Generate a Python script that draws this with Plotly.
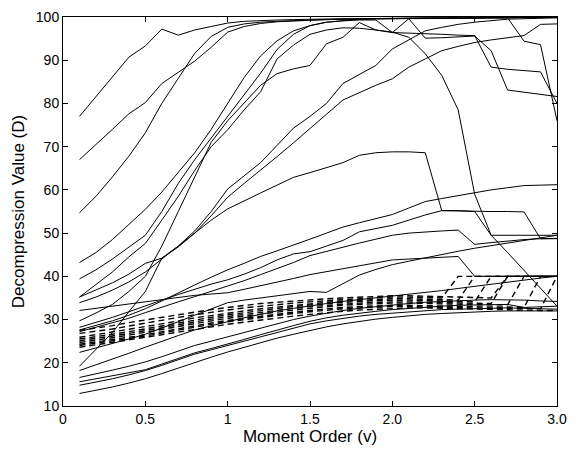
import plotly.graph_objects as go

# Moment order (x) shared by all curves
moment_order = [0.1, 0.2, 0.3, 0.4, 0.5, 0.6, 0.7, 0.8, 0.9, 1.0,
                1.1, 1.2, 1.3, 1.4, 1.5, 1.6, 1.7, 1.8, 1.9, 2.0,
                2.1, 2.2, 2.3, 2.4, 2.5, 2.6, 2.7, 2.8, 2.9, 3.0]

# ---- solid curves (decompression values) ----
s1 = [77, 81.5, 86, 90.7, 93.3, 97.2, 95.8, 97, 97.8, 98.6,
      99, 99.2, 99.3, 99.4, 99.5, 99.5, 99.6, 99.6, 99.7, 99.7,
      99.7, 99.8, 99.8, 99.8, 99.8, 99.9, 99.9, 99.9, 99.9, 99.9]
s2 = [67, 70.4, 74, 77.6, 80.2, 84.6, 87.2, 89.8, 93, 96.5,
      97.8, 98.5, 98.9, 99.1, 99.3, 99.4, 99.5, 99.5, 99.6, 99.6,
      99.7, 99.7, 99.7, 99.8, 99.8, 99.8, 99.8, 99.9, 99.9, 99.9]
s3 = [54.7, 58.5, 63, 67.8, 73.2, 80, 85.8, 91.6, 95.5, 97.6,
      98.4, 98.8, 99, 99.2, 99.3, 99.4, 99.5, 99.5, 99.6, 99.6,
      99.6, 99.7, 99.7, 99.7, 99.7, 99.8, 99.8, 94.4, 93.6, 76]
r1 = [43.2, 45.5, 48.5, 52, 55.5, 59.5, 64, 68.6, 74, 80,
      86, 91, 94.5, 96.8, 98, 98.8, 99.2, 99.5, 99.6, 99.7,
      99.7, 99.8, 99.8, 99.8, 99.8, 99.9, 99.9, 99.9, 99.9, 99.9]
r2 = [39.4, 41.5, 44, 46.8, 49.5, 55, 61.5, 67, 72, 77,
      82, 87, 92.5, 96, 98, 98.8, 99.1, 99.3, 99.3, 96.4,
      99.6, 95.1, 95.2, 95.4, 95.6, 92.2, 83.1, 82.6, 82.1, 81.6]
r3 = [35.2, 38, 41, 44.5, 47.6, 53, 58.5, 64.5, 70, 73.9,
      78.5, 82.7, 90.3, 93.5, 96, 97, 97.5, 97.4, 97, 96.4,
      96.3, 96.1, 96, 95.8, 95.7, 88.4, 87.9, 87.6, 87.3, 80]
r4 = [29.7, 31.5, 33.5, 36.5, 40, 47, 55, 63, 71, 76,
      80, 84.2, 86.9, 88, 88.8, 93.8, 95.3, 98.7, 97, 96.5,
      95.3, 91.5, 86.5, 78.5, 59, 49.5, 45.5, 41.3, 37.2, 33.1]
p_line = [35.2, 36.8, 38.5, 40.5, 43, 44.2, 47, 50.5, 55, 60.2,
          63.2, 66.3, 70.3, 74.3, 77, 80, 84.6, 86.7, 88.8, 92.6,
          94.7, 96.8, 97.6, 98.3, 98.8, 99.2, 99.5, 99.6, 99.7, 99.8]
q_line = [33.9, 35.2, 36.8, 38.7, 41, 44, 47, 50, 54, 58.3,
          61.5, 64.5, 67.7, 70.9, 74.3, 77.5, 80.8, 82.5, 84.2, 85.7,
          88.4, 90.3, 92.2, 93.2, 94.1, 94.7, 95.2, 95.7, 98.3, 98.4]
m0 = [19.2, 23, 27, 31.8, 36.5, 44.2, 46.8, 50, 53, 55.6,
      57.5, 59.3, 61.1, 62.9, 64, 65.2, 66.3, 68, 68.6, 68.8,
      68.8, 68.6, 55.2, 55.2, 55, 49.5, 49.5, 49.5, 49.5, 49.5]
m1 = [27.6, 28.6, 29.7, 31, 32.5, 34.3, 36.2, 38, 39.8, 41.5,
      43, 44.6, 45.9, 47.2, 48.6, 50, 51.4, 52.4, 53.4, 54.3,
      55.8, 57.3, 58, 58.7, 59.4, 60, 60.5, 61, 61.1, 61.2]
m2 = [28.2, 29.3, 30.5, 31.8, 33.2, 34.5, 35.8, 37, 38.2, 39.2,
      40.5, 42, 43.8, 45.2, 45.7, 47, 48.3, 50.3, 51, 51.8,
      53, 54.2, 55.2, 55.1, 55.1, 55, 55, 54.9, 48.7, 48.7]
m3 = [32.1, 32.6, 33.1, 33.6, 34.1, 34.6, 35.1, 35.6, 35.9, 36.2,
      37, 37.8, 38.6, 39.5, 40.4, 41.1, 41.8, 42.5, 43.2, 43.8,
      44, 44.2, 44.4, 44.6, 40, 40, 40, 40, 40, 40]
d_line = [27.2, 28.2, 29.2, 30.3, 31.6, 32.9, 34.1, 35.3, 36.5, 37.7,
          39, 40.4, 41.8, 43.2, 44.8, 45.8, 46.8, 47.7, 48.6, 49.5,
          50, 50.3, 50.5, 50.7, 47.4, 47.8, 48.2, 48.5, 48.7, 48.8]
e_line = [22.4, 23.4, 24.4, 25.5, 26.6, 28, 29.5, 31, 32.5, 33.9,
          34.5, 35, 35.6, 36.1, 36.5, 36.3, 38.3, 40.3, 41.6, 42.7,
          43.5, 44.3, 45, 45.8, 46.5, 47.1, 47.7, 48.3, 48.9, 49.5]
g_line = [18.2, 19.5, 20.8, 22.2, 23.6, 25, 26.3, 27.6, 28.6, 29.5,
          30.4, 31.2, 32, 32.6, 33.2, 33.7, 34.2, 34.6, 35, 35.4,
          35.8, 36.2, 36.7, 37.2, 37.7, 38.2, 38.7, 39.2, 39.6, 40]
b1 = [12.9, 13.6, 14.4, 15.3, 16.3, 17.5, 18.8, 20.1, 21.3, 22.5,
      23.6, 24.7, 25.7, 26.6, 27.5, 28.3, 29, 29.6, 30.1, 30.5,
      30.9, 31.2, 31.4, 31.6, 31.8, 31.9, 32, 32, 32, 32]
b2 = [14.8, 15.5, 16.3, 17.2, 18.2, 19.4, 20.7, 22, 23, 24,
      25.1, 26.1, 27.1, 28.1, 29, 29.7, 30.3, 30.8, 31.2, 31.5,
      31.8, 32.1, 32.3, 32.4, 32.5, 32.6, 32.7, 32.6, 32.5, 32.4]
b3 = [15.6, 16.3, 17, 17.7, 18.4, 19.7, 21, 22.3, 23.3, 24.3,
      25.4, 26.5, 27.6, 28.6, 29.6, 30.4, 31, 31.5, 31.9, 32.3,
      32.6, 32.9, 33.1, 33.3, 33.4, 33.5, 33.5, 32.8, 33, 33.1]
b4 = [16.6, 17.4, 18.3, 19.2, 20.2, 21.4, 22.7, 24, 25, 26,
      27, 28, 29, 30, 30.8, 31.5, 32.1, 32.6, 33, 33.4,
      33.7, 34, 34.2, 34.4, 34.5, 34.6, 34.6, 34.5, 34.3, 34.2]

# ---- dashed curves ----
dd1 = [26.8, 27.3, 27.8, 28.5, 29.2, 29.9, 30.5, 31.1, 31.7, 32.2,
       32.7, 33.1, 33.5, 33.8, 34.1, 34.4, 34.6, 34.8, 35, 35.2,
       35.2, 35.1, 35, 40, 40, 40, 40, 40, 40, 40]
dd2 = [25.9, 26.5, 27.1, 27.7, 28.3, 29, 29.7, 30.4, 30.9, 31.5,
       32, 32.5, 32.9, 33.3, 33.7, 34, 34.3, 34.5, 34.7, 34.8,
       34.8, 34.7, 34.6, 34.5, 40, 40, 40, 40, 40, 40]
dd3 = [25.5, 26, 26.6, 27.2, 27.8, 28.5, 29.2, 29.9, 30.5, 31.1,
       31.6, 32.1, 32.6, 33, 33.4, 33.7, 34, 34.2, 34.4, 34.5,
       34.5, 34.4, 34.3, 34.2, 34.1, 40, 40, 40, 40, 40]
dd4 = [25.1, 25.6, 26.2, 26.8, 27.4, 28.1, 28.8, 29.5, 30.1, 30.7,
       31.2, 31.7, 32.2, 32.6, 33, 33.3, 33.6, 33.8, 34, 34.1,
       34.1, 34, 33.9, 33.8, 33.8, 33.7, 40, 40, 40, 40]
dd5 = [24.7, 25.2, 25.8, 26.4, 27, 27.7, 28.4, 29.1, 29.7, 30.3,
       30.8, 31.3, 31.8, 32.2, 32.6, 33, 33.3, 33.5, 33.7, 33.8,
       33.8, 33.7, 33.6, 33.5, 33.5, 33.4, 33.4, 40, 40, 40]
dd6 = [24.3, 24.8, 25.3, 25.9, 26.5, 27.2, 27.9, 28.6, 29.2, 29.8,
       30.3, 30.8, 31.3, 31.7, 32.1, 32.5, 32.8, 33, 33.2, 33.3,
       33.3, 33.2, 33.1, 33, 33, 32.9, 32.9, 32.8, 40, 40]
dd7 = [24, 24.5, 25, 25.6, 26.2, 26.9, 27.6, 28.3, 28.9, 29.5,
       30, 30.5, 31, 31.4, 31.8, 32.2, 32.5, 32.7, 32.9, 33,
       33, 32.9, 32.8, 32.7, 32.7, 32.6, 32.6, 32.5, 32.5, 40]
dd8 = [23.6, 24.1, 24.7, 25.3, 25.9, 26.5, 27.1, 27.8, 28.4, 28.9,
       29.4, 29.9, 30.4, 30.8, 31.2, 31.6, 31.9, 32.2, 32.4, 32.6,
       32.7, 32.7, 32.6, 32.5, 32.4, 32.3, 32.2, 32.2, 32.1, 32.1]
dd9 = [27.5, 28, 28.6, 29.3, 29.9, 30.6, 31.2, 31.8, 32.3, 32.8,
       33.3, 33.7, 34, 34.3, 34.6, 34.8, 35, 35.2, 35.4, 35.5,
       35.5, 35.4, 35.3, 35.2, 35.1, 35, 40, 40, 40, 40]

solid_series = [s1, s2, s3, r1, r2, r3, r4, p_line, q_line, m0, m1, m2,
                m3, d_line, e_line, g_line, b1, b2, b3, b4]
dashed_series = [dd1, dd2, dd3, dd4, dd5, dd6, dd7, dd8, dd9]

x_tick_vals = [0, 0.5, 1, 1.5, 2, 2.5, 3]
x_tick_text = ["0", "0.5", "1", "1.5", "2.0", "2.5", "3.0"]
y_tick_vals = [10, 20, 30, 40, 50, 60, 70, 80, 90, 100]

fig = go.Figure()
for ys in solid_series:
    fig.add_trace(go.Scatter(x=moment_order, y=ys, mode="lines",
                             line=dict(color="black", width=1),
                             showlegend=False, hoverinfo="skip"))
for ys in dashed_series:
    fig.add_trace(go.Scatter(x=moment_order, y=ys, mode="lines",
                             line=dict(color="black", width=1.4, dash="6px,4px"),
                             showlegend=False, hoverinfo="skip"))

axis_common = dict(showgrid=False, zeroline=False, showline=True, mirror="ticks",
                   linecolor="black", linewidth=1, ticks="inside", ticklen=5,
                   tickcolor="black", tickwidth=1)

fig.update_layout(
    width=576, height=450,
    margin=dict(l=63, r=9, t=13, b=44),
    paper_bgcolor="white", plot_bgcolor="white",
    font=dict(family="Liberation Sans, Arial, sans-serif", size=14, color="black"),
    xaxis=dict(range=[0, 3], tickvals=x_tick_vals, ticktext=x_tick_text,
               title=dict(text="Moment Order (v)", standoff=2), **axis_common),
    yaxis=dict(range=[10, 100], tickvals=y_tick_vals,
               title=dict(text="Decompression Value (D)", standoff=6), **axis_common),
)

fig.write_html("out.html", config={"displayModeBar": False})
